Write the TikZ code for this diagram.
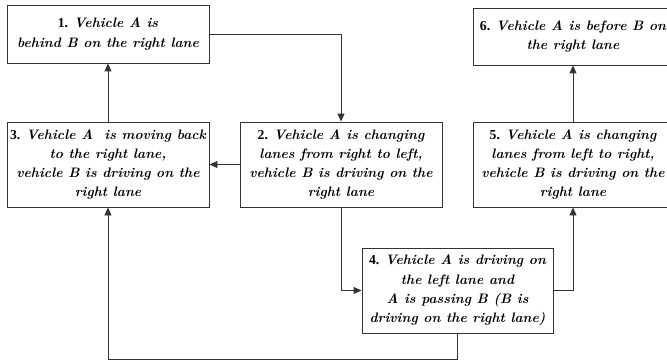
\documentclass[tikz,border=0pt]{standalone}
\usepackage{fontspec}
\setmainfont{Liberation Serif}
\newfontfamily\slantfont{Latin Modern Roman}
\newcommand{\stnum}[1]{{\rmfamily\upshape\bfseries #1}\ }
\usetikzlibrary{arrows.meta}

\begin{document}
\begin{tikzpicture}[
  x=1pt, y=1pt,
  box/.style={draw=black!80, line width=0.9pt, inner sep=0pt, align=center,
    font=\fontsize{13.7}{19.3}\slantfont\bfseries\itshape},
  flow/.style={draw=black!80, line width=0.9pt, -{Triangle[length=8pt, width=7pt]}}
]
  \useasboundingbox (0,0) rectangle (667,-361);

  % Upper row
  \node[box, minimum width=202, minimum height=58] (s1) at (108,-34)
    {\stnum{1.}Vehicle A is\\ behind B on the right lane};
  \node[box, minimum width=200, minimum height=57] (s6) at (573,-36.5)
    {\stnum{6.}Vehicle A is before B on\\ the right lane};

  % Middle row
  \node[box, minimum width=202, minimum height=85] (s3) at (108,-164.5)
    {\stnum{3.}Vehicle A\ \ is moving back\\ to the right lane,\\ vehicle B is driving on the\\ right lane};
  \node[box, minimum width=202, minimum height=85] (s2) at (341,-164.5)
    {\stnum{2.}Vehicle A is changing\\ lanes from right to left,\\ vehicle B is driving on the\\ right lane};
  \node[box, minimum width=200, minimum height=85] (s5) at (573,-164.5)
    {\stnum{5.}Vehicle A is changing\\ lanes from left to right,\\ vehicle B is driving on the\\ right lane};

  % Lower row
  \node[box, minimum width=191, minimum height=85] (s4) at (457.5,-290.5)
    {\stnum{4.}Vehicle A is driving on\\ the left lane and\\ A is passing B (B is\\ driving on the right lane)};
  \coordinate (back) at (457.5,-359);

  % Transitions
  \draw[flow] (s1.east) -| (s2.north);
  \draw[flow] (s2.west) -- (s3.east);
  \draw[flow] (s3.north) -- (s1.south);
  \draw[flow] (s2.south) |- (s4.west);
  \draw[flow] (s4.east) -| (s5.south);
  \draw[flow] (s5.north) -- (s6.south);
  \draw[flow] (s4.south) -- (back) -| (s3.south);
\end{tikzpicture}
\end{document}
